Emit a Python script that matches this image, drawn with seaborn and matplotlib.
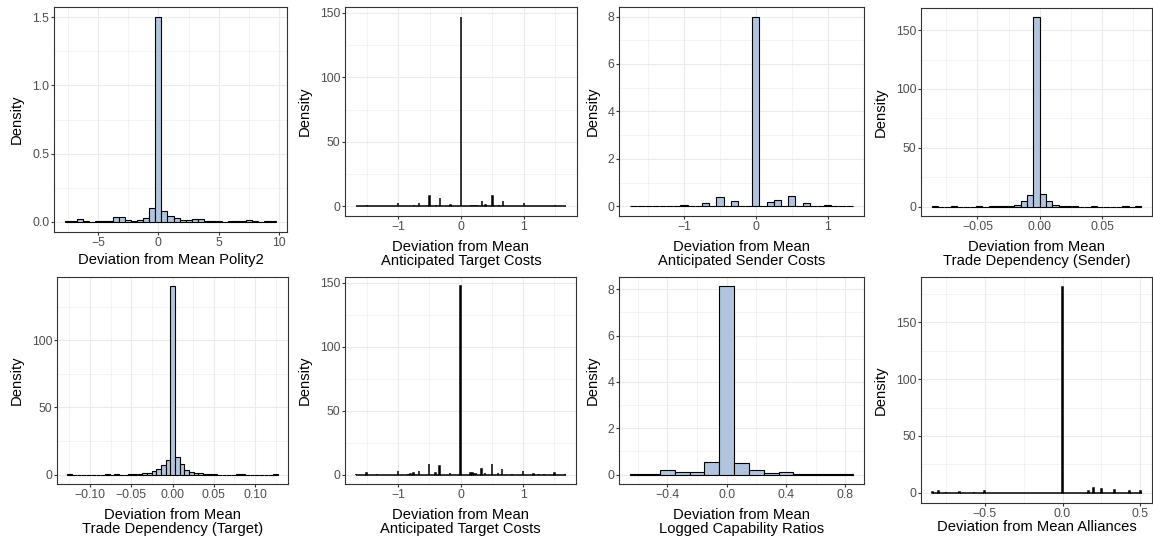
import numpy as np
import matplotlib
matplotlib.use("Agg")
import matplotlib.pyplot as plt
import seaborn as sns

# ---------------------------------------------------------------- data
# Deviation from mean Polity2 (bin width 0.5)
polity_x = [-7.5, -7.0, -6.5, -6.0, -5.5, -5.0, -4.5, -4.0, -3.5, -3.0, -2.5, -2.0,
            -1.5, -1.0, -0.5, 0.0, 0.5, 1.0, 1.5, 2.0, 2.5, 3.0, 3.5, 4.0, 4.5,
            5.0, 5.5, 6.0, 6.5, 7.0, 7.5, 8.0, 8.5, 9.0, 9.5]
polity_density = [0.003, 0.003, 0.017, 0.003, 0.0, 0.003, 0.003, 0.006, 0.035, 0.035,
                  0.010, 0.002, 0.015, 0.030, 0.100, 1.500, 0.080, 0.040, 0.025, 0.010,
                  0.010, 0.018, 0.020, 0.003, 0.003, 0.003, 0.0, 0.003, 0.005, 0.003,
                  0.010, 0.003, 0.0, 0.002, 0.002]

# Anticipated target costs (fine bins, only non-empty bins listed)
target_cost_x = [-1.667, -1.5, -1.333, -1.0, -0.84, -0.8, -0.75, -0.667, -0.5, -0.4,
                 -0.333, -0.167, 0.0, 0.16, 0.19, 0.22, 0.25, 0.333, 0.39, 0.5, 0.6,
                 0.667, 0.825, 1.0, 1.167, 1.25, 1.333, 1.5, 1.667]
target_cost_density = [0.5, 1.5, 0.5, 2.5, 0.5, 0.5, 1.5, 2.5, 8.5, 1.0,
                       6.5, 1.5, 147.0, 1.0, 1.0, 1.5, 1.5, 4.5, 1.5, 8.5, 1.0,
                       4.0, 0.5, 2.5, 0.5, 0.5, 0.5, 1.5, 0.5]

# Anticipated sender costs (bin width 0.1)
sender_cost_x = [-1.7, -1.0, -0.8, -0.7, -0.5, -0.3, 0.0, 0.2, 0.3, 0.5, 0.7, 1.0, 1.3]
sender_cost_density = [0.02, 0.07, 0.03, 0.13, 0.42, 0.25, 8.0, 0.18, 0.28, 0.43,
                       0.13, 0.08, 0.02]

# Trade dependency (sender)
trade_sender_x = [-0.0843, -0.0690, -0.0486, -0.0384, -0.0333, -0.0282, -0.0231,
                  -0.0180, -0.0129, -0.0077, -0.0027, 0.0025, 0.0076, 0.0127,
                  0.0178, 0.0229, 0.0280, 0.0433, 0.0688, 0.0790]
trade_sender_density = [0.3, 0.3, 0.3, 0.4, 0.4, 0.5, 0.8, 1.7, 4.3, 9.7, 160.8,
                        10.3, 4.3, 1.5, 0.5, 0.3, 0.4, 0.3, 0.3, 0.5]

# Trade dependency (target)
trade_target_x = [-0.1243, -0.0791, -0.0678, -0.0509, -0.0452, -0.0396, -0.0339,
                  -0.0283, -0.0226, -0.0170, -0.0113, -0.0057, 0.0, 0.0057, 0.0113,
                  0.0170, 0.0226, 0.0283, 0.0339, 0.0396, 0.0452, 0.0509, 0.0791,
                  0.0848, 0.1243]
trade_target_density = [0.8, 0.5, 0.5, 0.2, 0.4, 0.6, 1.0, 1.5, 2.5, 4.2, 7.4, 11.1,
                        140.0, 13.4, 7.9, 3.7, 2.0, 1.2, 1.5, 0.8, 0.5, 0.3, 0.6,
                        0.6, 0.8]

# Logged capability ratios (bin width 0.1)
capability_x = [-0.6, -0.5, -0.4, -0.3, -0.2, -0.1, 0.0, 0.1, 0.2, 0.3, 0.4, 0.5,
                0.6, 0.7, 0.8]
capability_density = [0.02, 0.02, 0.19, 0.11, 0.11, 0.55, 8.12, 0.52, 0.20, 0.08,
                      0.10, 0.02, 0.01, 0.02, 0.02]

# Alliances (fine bins, only non-empty bins listed)
alliance_x = [-0.833, -0.8, -0.75, -0.667, -0.571, -0.5, 0.0, 0.167, 0.2, 0.25,
              0.333, 0.429, 0.5]
alliance_density = [0.5, 1.2, 1.0, 1.0, 0.8, 1.8, 181.0, 1.5, 3.8, 3.0, 2.4, 1.2, 1.8]

MINUS = "\u2212"

# ---------------------------------------------------------------- style
sns.set_style("white")
plt.rcParams["font.family"] = ["Liberation Sans", "DejaVu Sans"]
plt.rcParams["axes.unicode_minus"] = True

FILL = "#B0C4DE"
GRID = "#EBEBEB"
BORDER = "#333333"
TICKLAB = "#4D4D4D"
TICK_SIZE = 8.8
TITLE_SIZE = 10.6

W, H = 1153, 542
fig = plt.figure(figsize=(W / 100, H / 100), dpi=100)
fig.patch.set_facecolor("white")


def add_panel(box):
    left, top, right, bottom = box
    return fig.add_axes([left / W, 1 - bottom / H, (right - left) / W, (bottom - top) / H])


def panel(box, x, dens, nbins, brange, xlabel, xticks, xticklabels, yticks, yticklabels,
          xminor, yminor, ylab_dist, xlab_dist, lw=0.8):
    ax = add_panel(box)
    sns.histplot(x=np.asarray(x, float), weights=np.asarray(dens, float),
                 bins=nbins, binrange=brange, stat="count", color=FILL,
                 edgecolor="black", linewidth=lw, alpha=1, ax=ax)
    lo, hi = brange
    span = hi - lo
    ax.set_xlim(lo - 0.05 * span, hi + 0.05 * span)
    top = max(dens)
    ax.set_ylim(-0.05 * top, 1.05 * top)

    ax.set_xticks(xticks)
    ax.set_xticklabels(xticklabels)
    ax.set_yticks(yticks)
    ax.set_yticklabels(yticklabels)
    ax.set_xticks(xminor, minor=True)
    ax.set_yticks(yminor, minor=True)
    ax.grid(which="major", color=GRID, linewidth=0.8)
    ax.grid(which="minor", color=GRID, linewidth=0.4)
    ax.set_axisbelow(True)

    for s in ax.spines.values():
        s.set_visible(True)
        s.set_color(BORDER)
        s.set_linewidth(0.8)
    ax.tick_params(which="major", length=2.1, width=0.8, color=BORDER,
                   labelsize=TICK_SIZE, labelcolor=TICKLAB, pad=1.3,
                   bottom=True, left=True)
    ax.tick_params(which="minor", length=0, bottom=False, left=False)

    width_px = box[2] - box[0]
    height_px = box[3] - box[1]
    ax.set_ylabel("Density", fontsize=TITLE_SIZE, color="black", va="center")
    ax.yaxis.set_label_coords(-ylab_dist / width_px, 0.5)
    ax.set_xlabel(xlabel, fontsize=TITLE_SIZE, color="black", va="top", linespacing=1.0)
    ax.xaxis.set_label_coords(0.5, -xlab_dist / height_px)
    return ax


def signed(vals, fmt):
    out = []
    for v in vals:
        s = fmt.format(abs(v))
        out.append((MINUS + s) if v < 0 else s)
    return out


# Row 1
panel((54, 7, 287, 232), polity_x, polity_density, 35, (-7.75, 9.75),
      "Deviation from Mean Polity2",
      [-5, 0, 5, 10], signed([-5, 0, 5, 10], "{:g}"),
      [0, 0.5, 1.0, 1.5], ["0.0", "0.5", "1.0", "1.5"],
      [-7.5, -2.5, 2.5, 7.5], [0.25, 0.75, 1.25], 37, 21)

panel((345, 7, 577, 216), target_cost_x, target_cost_density, 671, (-1.6775, 1.6775),
      "Deviation from Mean\nAnticipated Target Costs",
      [-1, 0, 1], signed([-1, 0, 1], "{:g}"),
      [0, 50, 100, 150], ["0", "50", "100", "150"],
      [-1.5, -0.5, 0.5, 1.5], [25, 75, 125], 40, 24, lw=1.1)

panel((619, 7, 864, 216), sender_cost_x, sender_cost_density, 31, (-1.75, 1.35),
      "Deviation from Mean\nAnticipated Sender Costs",
      [-1, 0, 1], signed([-1, 0, 1], "{:g}"),
      [0, 2, 4, 6, 8], ["0", "2", "4", "6", "8"],
      [-1.5, -0.5, 0.5], [1, 3, 5, 7], 26, 24)

panel((921, 8, 1152, 216), trade_sender_x, trade_sender_density, 33, (-0.0868, 0.0815),
      "Deviation from Mean\nTrade Dependency (Sender)",
      [-0.05, 0, 0.05], signed([-0.05, 0, 0.05], "{:.2f}"),
      [0, 50, 100, 150], ["0", "50", "100", "150"],
      [-0.075, -0.025, 0.025, 0.075], [25, 75, 125], 40, 24)

# Row 2
panel((57, 277, 288, 484), trade_target_x, trade_target_density, 45, (-0.127125, 0.127125),
      "Deviation from Mean\nTrade Dependency (Target)",
      [-0.10, -0.05, 0, 0.05, 0.10], signed([-0.10, -0.05, 0, 0.05, 0.10], "{:.2f}"),
      [0, 50, 100], ["0", "50", "100"],
      [-0.125, -0.075, -0.025, 0.025, 0.075, 0.125], [25, 75, 125], 40, 24)

panel((345, 277, 576, 484), target_cost_x, target_cost_density, 671, (-1.6775, 1.6775),
      "Deviation from Mean\nAnticipated Target Costs",
      [-1, 0, 1], signed([-1, 0, 1], "{:g}"),
      [0, 50, 100, 150], ["0", "50", "100", "150"],
      [-1.5, -0.5, 0.5, 1.5], [25, 75, 125], 40, 24, lw=1.1)

panel((619, 277, 864, 484), capability_x, capability_density, 15, (-0.65, 0.85),
      "Deviation from Mean\nLogged Capability Ratios",
      [-0.4, 0, 0.4, 0.8], signed([-0.4, 0, 0.4, 0.8], "{:.1f}"),
      [0, 2, 4, 6, 8], ["0", "2", "4", "6", "8"],
      [-0.6, -0.2, 0.2, 0.6], [1, 3, 5, 7], 26, 24)

panel((921, 277, 1152, 503), alliance_x, alliance_density, 270, (-0.8425, 0.5075),
      "Deviation from Mean Alliances",
      [-0.5, 0, 0.5], signed([-0.5, 0, 0.5], "{:.1f}"),
      [0, 50, 100, 150], ["0", "50", "100", "150"],
      [-0.75, -0.25, 0.25], [25, 75, 125, 175], 40, 17, lw=1.1)

fig.savefig("out.png", dpi=100, facecolor="white")
